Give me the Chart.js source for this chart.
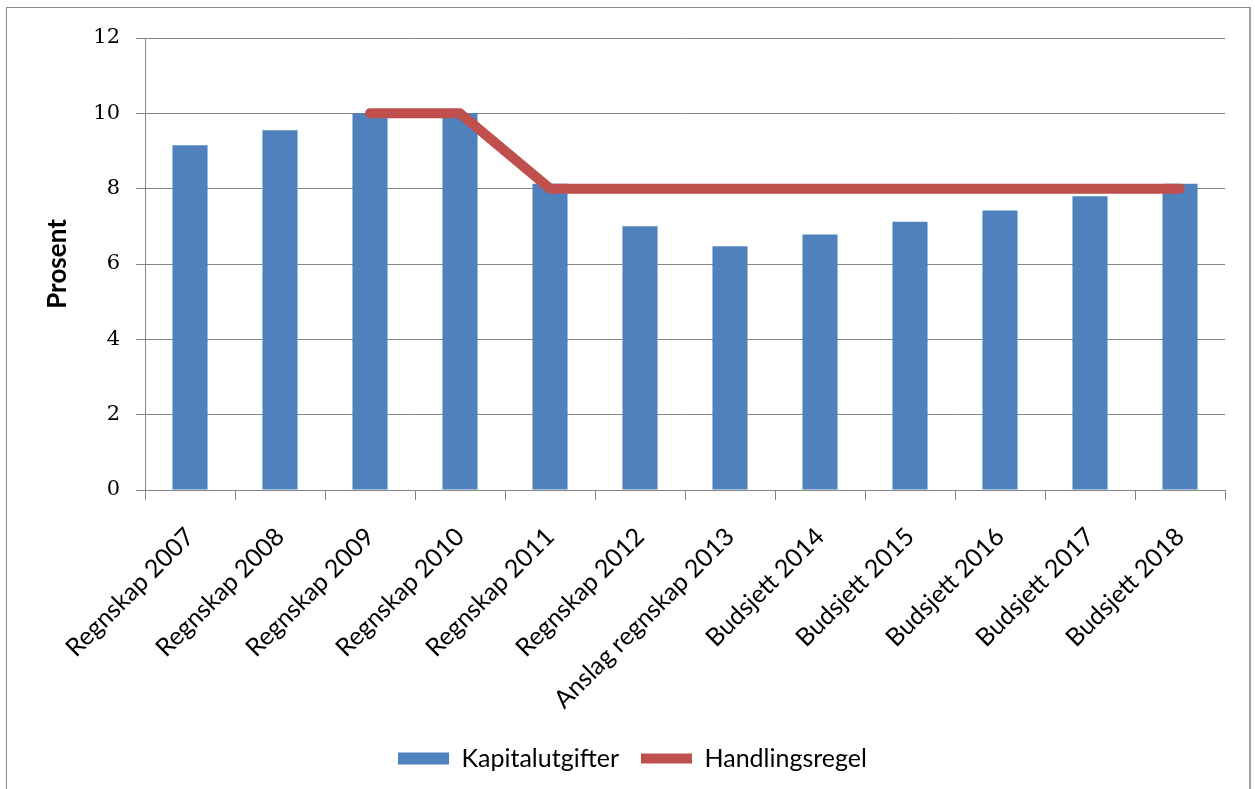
<!DOCTYPE html>
<html>
<head>
<meta charset="utf-8">
<script src="https://cdn.jsdelivr.net/npm/chart.js@4.4.1/dist/chart.umd.min.js"></script>
<style>
  html, body { margin: 0; padding: 0; background: #ffffff; }
  #wrap { position: relative; width: 1255px; height: 789px; }
  #frame { position: absolute; left: 6px; top: 7px; width: 1245px; height: 790px; border: 1px solid #8c8c8c; border-right: 2px solid #a0a0a0; box-sizing: border-box; }
  canvas { position: absolute; left: 0; top: 0; }
</style>
</head>
<body>
<div id="wrap">
  <div id="frame"></div>
  <canvas id="c" width="1255" height="789"></canvas>
</div>
<script>
const categories = ["Regnskap 2007", "Regnskap 2008", "Regnskap 2009", "Regnskap 2010", "Regnskap 2011", "Regnskap 2012", "Anslag regnskap 2013", "Budsjett 2014", "Budsjett 2015", "Budsjett 2016", "Budsjett 2017", "Budsjett 2018"];
const kapitalutgifter = [9.15, 9.55, 10.0, 10.0, 8.13, 7.0, 6.47, 6.78, 7.12, 7.42, 7.8, 8.13];
const handlingsregel = [null, null, 10, 10, 8, 8, 8, 8, 8, 8, 8, 8];
const yTicks = [0, 2, 4, 6, 8, 10, 12];

const gridColor = '#868686';

new Chart(document.getElementById('c'), {
  type: 'bar',
  data: {
    labels: categories,
    datasets: [
      {
        type: 'bar',
        label: 'Kapitalutgifter',
        data: kapitalutgifter,
        backgroundColor: '#4F81BD',
        borderWidth: 0,
        barPercentage: 0.39,
        categoryPercentage: 1.0,
        pointStyle: 'rect',
        order: 2
      },
      {
        type: 'line',
        label: 'Handlingsregel',
        data: handlingsregel,
        borderColor: '#C0504D',
        backgroundColor: '#C0504D',
        borderWidth: 10,
        pointRadius: 0,
        pointHoverRadius: 0,
        tension: 0,
        spanGaps: false,
        borderCapStyle: 'round',
        borderJoinStyle: 'round',
        pointStyle: 'line',
        order: 1
      }
    ]
  },
  options: {
    responsive: false,
    animation: false,
    devicePixelRatio: 1,
    layout: { padding: { top: 38, right: 30, left: 40, bottom: 8 } },
    plugins: {
      tooltip: { enabled: false },
      legend: {
        position: 'bottom',
        labels: {
          usePointStyle: true,
          pointStyleWidth: 51,
          boxHeight: 12,
          padding: 22,
          color: '#000000',
          font: { family: 'Lato', size: 25 },
          sort: (a, b) => a.datasetIndex - b.datasetIndex
        }
      }
    },
    scales: {
      x: {
        offset: true,
        grid: { offset: true, drawOnChartArea: false, drawTicks: true, tickLength: 10, color: gridColor, lineWidth: 1 },
        border: { display: true, color: gridColor, width: 1 },
        ticks: {
          autoSkip: false,
          minRotation: 45,
          maxRotation: 45,
          padding: 22,
          color: '#000000',
          font: { family: 'Lato', size: 25 }
        },
        afterFit: (s) => { s.height = 234; }
      },
      y: {
        min: 0,
        max: 12,
        afterBuildTicks: (s) => { s.ticks = yTicks.map(v => ({ value: v })); },
        grid: { drawOnChartArea: true, drawTicks: true, tickLength: 9, color: gridColor, lineWidth: 1 },
        border: { display: true, color: gridColor, width: 1 },
        ticks: {
          padding: 16,
          color: '#000000',
          font: { family: 'DejaVu Serif', size: 21 }
        },
        title: {
          display: true,
          text: 'Prosent',
          color: '#000000',
          font: { family: 'Lato', size: 26, weight: 'bold' },
          padding: { top: 2, bottom: 0 }
        },
        afterFit: (s) => { s.width = 105; }
      }
    }
  }
});
</script>
</body>
</html>
